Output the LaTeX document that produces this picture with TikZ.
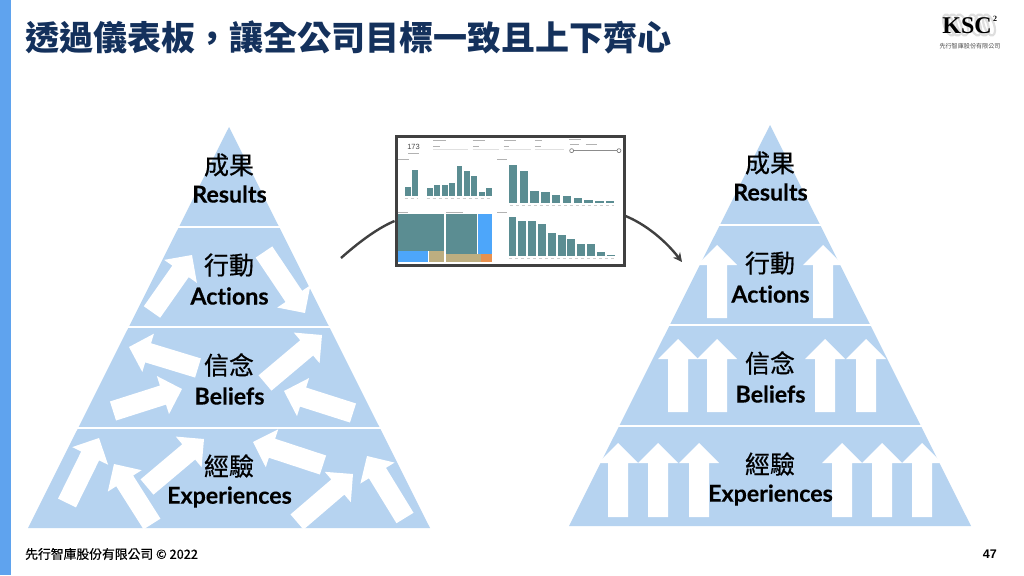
\documentclass[tikz,border=0pt]{standalone}
\usepackage{fontspec}
\setmainfont{Liberation Sans}
\newfontfamily\cjk{Noto Sans CJK TC}
\newfontfamily\cjkm[FakeBold=0.5]{Noto Sans CJK TC}
\newfontfamily\lat[Ligatures=NoCommon,FakeBold=0.25]{Lato}
\newfontfamily\logof{Liberation Serif}
\usetikzlibrary{calc,arrows.meta}
\definecolor{pyr}{HTML}{B6D3F0}
\definecolor{navy}{HTML}{14315C}
\definecolor{sidebar}{HTML}{5FA3EE}
\definecolor{teal1}{HTML}{5B8D92}
\definecolor{blue1}{HTML}{4DA6FA}
\definecolor{tan1}{HTML}{BDAE80}
\definecolor{orange1}{HTML}{E8914F}
\definecolor{frame1}{HTML}{404040}
\tikzset{
  pyramid/.style={fill=pyr,draw=none},
  sep/.style={draw=white,line width=1.4pt},
  zh/.style={font=\cjkm\fontsize{25}{28}\selectfont,text=black,inner sep=0pt},
  en/.style={font=\lat\bfseries\fontsize{23.2}{26}\selectfont,text=black,inner sep=0pt},
  conn/.style={draw=frame1,line width=2.4pt},
  ghost/.style={draw=black!30,line width=.5pt},
}
% block arrow: tail x,y then tip x,y; shaft 20, head 40 wide, head 20 long
\newcommand{\blockarrow}[4]{%
  \pgfmathsetmacro{\dxx}{#3-#1}\pgfmathsetmacro{\dyy}{#4-#2}%
  \pgfmathsetmacro{\lenn}{sqrt(\dxx*\dxx+\dyy*\dyy)}%
  \pgfmathsetmacro{\ux}{\dxx/\lenn}\pgfmathsetmacro{\uy}{\dyy/\lenn}%
  \pgfmathsetmacro{\nx}{-\uy}\pgfmathsetmacro{\ny}{\ux}%
  \pgfmathsetmacro{\hx}{#3-20*\ux}\pgfmathsetmacro{\hy}{#4-20*\uy}%
  \fill[white] ({#1+10*\nx},{#2+10*\ny}) -- ({\hx+10*\nx},{\hy+10*\ny}) --
    ({\hx+20*\nx},{\hy+20*\ny}) -- (#3,#4) -- ({\hx-20*\nx},{\hy-20*\ny}) --
    ({\hx-10*\nx},{\hy-10*\ny}) -- ({#1-10*\nx},{#2-10*\ny}) -- cycle;
}
\newcommand{\pyr}[2]{%
  \fill[pyramid] (#1,#2) -- (#1+201,#2+401) -- (#1-201,#2+401) -- cycle;
}
\newcommand{\pyrsep}[2]{%
  \draw[sep] (#1-105,#2+100) -- (#1+105,#2+100);
  \draw[sep] (#1-155,#2+200) -- (#1+155,#2+200);
  \draw[sep] (#1-205,#2+301) -- (#1+205,#2+301);
}
\begin{document}
\begin{tikzpicture}[x=1pt,y=-1pt]
\useasboundingbox (0,0) rectangle (1024,575);
\fill[white] (0,0) rectangle (1024,575);
\fill[sidebar] (0,0) rectangle (11,575);
\node[anchor=west,inner sep=0pt,text=navy,font=\cjk\bfseries\fontsize{34}{38}\selectfont] (title) at (25,37) {透過儀表板，讓全公司目標一致且上下齊心};
% logo
\foreach \cx/\rx in {949/5,955/6,962/5,975/5,982/6,989/5}
  \draw[black!13,line width=2.2pt,rotate around={20:(\cx,25)}] (\cx,25) ellipse (\rx pt and 11pt);
\node[inner sep=0pt,font=\logof\bfseries\fontsize{24}{24}\selectfont] (logo) at (967,26) {KSC};
\node[inner sep=0pt,font=\logof\bfseries\fontsize{8}{8}\selectfont] (logo2) at (995,19) {2};
\node[inner sep=0pt,text=black!70,font=\cjk\fontsize{6.1}{7}\selectfont] (logotxt) at (970,46) {先行智庫股份有限公司};
% left pyramid
\pyr{229}{127}
\pyrsep{229}{127}
\blockarrow{152}{312}{192}{255}
\blockarrow{264}{252}{305}{313}
\blockarrow{198}{368}{129}{347}
\blockarrow{113}{411}{182}{389}
\blockarrow{265}{383}{322}{335}
\blockarrow{353}{413}{284}{391}
\blockarrow{67}{503}{99}{438}
\blockarrow{152}{524}{114}{464}
\blockarrow{147}{487}{204}{439}
\blockarrow{323}{465}{253}{442}
\blockarrow{297}{522}{353}{474}
\blockarrow{405}{518}{367}{456}
% right pyramid
\pyr{770}{125}
\pyrsep{770}{125}
\foreach \xa/\ya/\yb in {717/318/245,823/318/245,
  678/412/339,717/412/339,825/412/339,866/412/339,
  618/517/443,658/517/443,699/517/443,842/517/443,882/517/443,922/517/443}
  {\blockarrow{\xa}{\ya}{\xa}{\yb}}
% labels left
\node[zh] (l1z) at (229,165) {成果};
\node[en] (l1e) at (229.5,194) {Results};
\node[zh] (l2z) at (229,265) {行動};
\node[en] (l2e) at (229.5,296) {Actions};
\node[zh] (l3z) at (229,365) {信念};
\node[en] (l3e) at (229.5,396) {Beliefs};
\node[zh] (l4z) at (229,466) {經驗};
\node[en] (l4e) at (229.5,497) {Experiences};
% labels right
\node[zh] (r1z) at (770,163) {成果};
\node[en] (r1e) at (770.5,192) {Results};
\node[zh] (r2z) at (770,263) {行動};
\node[en] (r2e) at (770.5,294) {Actions};
\node[zh] (r3z) at (770,363) {信念};
\node[en] (r3e) at (770.5,394) {Beliefs};
\node[zh] (r4z) at (770,464) {經驗};
\node[en] (r4e) at (770.5,495) {Experiences};
% connectors (under the frame)
\coordinate (cstart) at (341,258);
\coordinate (cend) at (682,262);
\node[draw=frame1,line width=3pt,fill=white,minimum width=228pt,minimum height=129pt,inner sep=0pt] (dash) at (510,201) {};
\draw[conn] (cstart) .. controls (358,243) and (376,229) .. (dash.west |- 0,221);
\draw[conn,-{Stealth[length=9pt,width=9pt]}] (dash.east |- 0,216) .. controls (645,224) and (665,240) .. (cend);
% dashboard contents
\begin{scope}[shift={(380,125)},x=.3333pt,y=-.3333pt]
  \foreach \a/\b/\t in {74/92/185,96/114/136,140/158/190,163/180/179,185/203/179,207/225/175,230/247/122,252/270/139,274/291/153,296/314/202,318/336/190}
    \fill[teal1] (\a,213) rectangle (\b,\t);
  \foreach \a/\b/\t in {387/412/121,419/444/139,451/476/197,484/509/201,516/541/209,548/573/213,581/606/219,613/638/226,646/671/229,678/703/229}
    \fill[teal1] (\a,233) rectangle (\b,\t);
  \foreach \a/\b/\t in {386/409/277,415/439/289,444/468/289,474/498/297,504/527/325,533/557/329,562/586/341,592/616/357,622/646/357,652/675/381,682/705/389}
    \fill[teal1] (\a,393) rectangle (\b,\t);
  \fill[teal1] (54,268) rectangle (191,377);
  \fill[blue1] (54,379) rectangle (144,411);
  \fill[tan1] (146,379) rectangle (191,411);
  \fill[teal1] (198,268) rectangle (291,386);
  \fill[blue1] (293,268) rectangle (335,386);
  \fill[tan1] (198,388) rectangle (302,411);
  \fill[orange1] (304,388) rectangle (335,411);
  \foreach \a/\b/\c in {54/86/103,352/380/103,54/84/262,198/248/262,352/380/262,160/198/45,278/316/45,372/408/45,465/485/45,568/602/43,160/180/64,280/296/64,372/388/64,465/482/64,570/596/59,618/650/59}
    \draw[ghost] (\a,\c) -- (\b,\c);
  \foreach \a/\b in {160/265,278/358,372/452,465/552}
    \draw[draw=black!12,line width=.4pt] (\a,72) -- (\b,72);
  \foreach \a/\b/\c in {74/114/221,140/336/221,390/703/240,388/705/400}
    \draw[draw=black!20,line width=.8pt,dash pattern=on 3pt off 3pt] (\a,\c) -- (\b,\c);
  \draw[black!45,line width=.5pt] (575,77) -- (717,77);
  \draw[black!55,fill=white,line width=.6pt] (575,77) circle (6);
  \draw[black!55,fill=white,line width=.6pt] (717,77) circle (6);
\end{scope}
\node[inner sep=0pt,text=black!70,font=\fontsize{7.5}{8}\selectfont] (n173) at (413.5,146.5) {173};
\draw[ghost] (408,153) -- (419,153);
% footer
\node[anchor=west,inner sep=0pt,font=\cjkm\fontsize{12.8}{14}\selectfont] (foot) at (25,554) {先行智庫股份有限公司 © 2022};
\node[anchor=east,inner sep=0pt,font=\bfseries\fontsize{12.5}{14}\selectfont] (page) at (997,554) {47};
\end{tikzpicture}
\end{document}
